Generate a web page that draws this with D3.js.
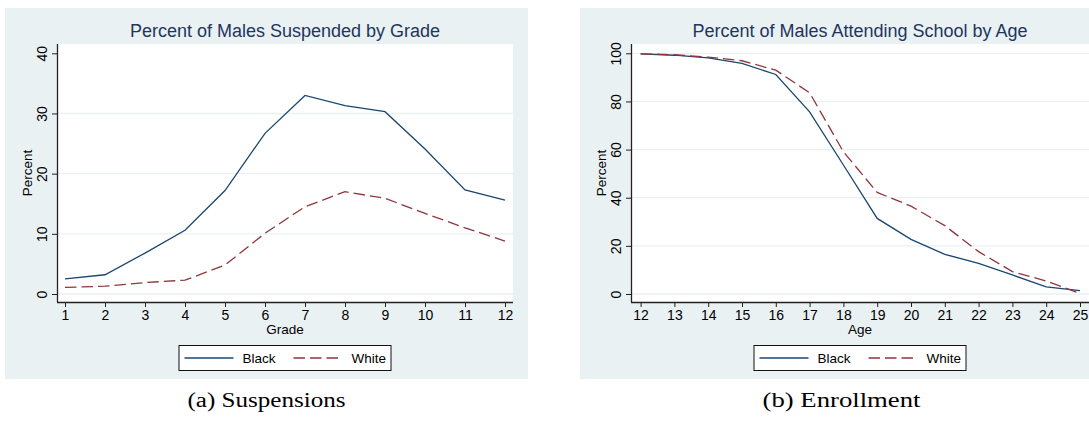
<!DOCTYPE html>
<html>
<head>
<meta charset="utf-8">
<script src="https://cdn.jsdelivr.net/npm/d3@7"></script>
<style>
  html, body { margin: 0; padding: 0; background: #ffffff; }
  svg { display: block; }
  .tick text { font-family: "Liberation Sans", Arial, sans-serif; font-size: 14px; fill: #000; }
</style>
</head>
<body>
<svg id="fig" width="1089" height="423"></svg>
<script>
// Suspensions by grade (percent of males)
const grades = [1, 2, 3, 4, 5, 6, 7, 8, 9, 10, 11, 12];
const suspBlack = [2.5, 3.2, 6.8, 10.6, 17.2, 26.7, 33.0, 31.3, 30.3, 24.1, 17.3, 15.6];
const suspWhite = [1.1, 1.3, 1.9, 2.3, 4.8, 10.1, 14.5, 17.0, 15.9, 13.4, 11.0, 8.8];
const suspYTicks = [0, 10, 20, 30, 40];

// School attendance by age (percent of males)
const ages = [12, 13, 14, 15, 16, 17, 18, 19, 20, 21, 22, 23, 24, 25];
const enrollBlack = [99.8, 99.2, 98.1, 95.8, 91.2, 75.7, 53.6, 31.4, 22.7, 16.5, 12.7, 7.9, 3.0, 1.4];
const enrollWhite = [99.8, 99.4, 98.4, 96.9, 93.0, 83.6, 59.1, 42.2, 36.5, 28.4, 17.6, 9.3, 5.4, 0.2];
const enrollYTicks = [0, 20, 40, 60, 80, 100];

const seriesNames = ["Black", "White"];

const svg = d3.select("#fig");
const SANS = "'Liberation Sans', Arial, Helvetica, sans-serif";
const SERIF = "'Liberation Serif', 'Times New Roman', serif";
const BG = "#eaf1f3";
const GRID = "#eaf1f3";
const NAVY = "#1a476f";
const MAROON = "#90353b";
const TITLE = "#1e3560";

function drawPanel(p) {
  const g = svg.append("g");
  const plotTop = 44, plotBottom = 302;

  // outer graph region
  g.append("rect")
    .attr("x", p.left).attr("y", 8)
    .attr("width", p.width).attr("height", 371)
    .attr("fill", BG);

  // plot region
  g.append("rect")
    .attr("x", p.axisX).attr("y", plotTop)
    .attr("width", p.plotRight - p.axisX).attr("height", plotBottom - plotTop)
    .attr("fill", "#ffffff");

  const x = d3.scaleLinear().domain(p.xDomain).range(p.xRange);
  const y = d3.scaleLinear().domain(p.yDomain).range([294, 53.3]);

  // horizontal grid lines
  g.append("g").selectAll("line")
    .data(p.yTicks.filter(t => t !== p.skipGrid))
    .join("line")
    .attr("x1", p.axisX + 1).attr("x2", p.plotRight)
    .attr("y1", d => y(d)).attr("y2", d => y(d))
    .attr("stroke", GRID).attr("stroke-width", 1.3);

  // series lines
  const line = d3.line().x(d => x(d[0])).y(d => y(d[1]));
  g.append("path")
    .datum(p.xs.map((v, i) => [v, p.black[i]]))
    .attr("d", line).attr("fill", "none")
    .attr("stroke", NAVY).attr("stroke-width", 1.3);
  g.append("path")
    .datum(p.xs.map((v, i) => [v, p.white[i]]))
    .attr("d", line).attr("fill", "none")
    .attr("stroke", MAROON).attr("stroke-width", 1.3)
    .attr("stroke-dasharray", "11.5,5");

  // y axis
  const yAxis = g.append("g")
    .attr("transform", `translate(${p.axisX},0)`)
    .call(d3.axisLeft(y).tickValues(p.yTicks).tickSize(5).tickPadding(0).tickSizeOuter(0));
  yAxis.select(".domain").attr("d", `M0.5,${plotTop}V${plotBottom}`).attr("stroke", "#222").attr("stroke-width", 1.3);
  yAxis.selectAll(".tick line").attr("stroke", "#222").attr("stroke-width", 1);
  yAxis.selectAll(".tick text")
    .attr("x", null).attr("dy", null)
    .attr("text-anchor", "middle")
    .attr("transform", "translate(-10,0) rotate(-90)");

  // x axis
  const xAxis = g.append("g")
    .attr("transform", `translate(0,${plotBottom})`)
    .call(d3.axisBottom(x).tickValues(p.xs).tickFormat(d3.format("d")).tickSize(5).tickPadding(4).tickSizeOuter(0));
  xAxis.select(".domain").attr("d", `M${p.axisX},0.5H${p.plotRight}`).attr("stroke", "#222").attr("stroke-width", 1.3);
  xAxis.selectAll(".tick line").attr("stroke", "#222").attr("stroke-width", 1);
  xAxis.selectAll(".tick text").attr("dy", "0.71em").attr("y", 8);

  const cx = (p.axisX + p.plotRight) / 2;

  // title
  g.append("text")
    .attr("x", cx).attr("y", 37)
    .attr("text-anchor", "middle")
    .attr("font-family", SANS).attr("font-size", 18)
    .attr("fill", TITLE)
    .text(p.title);

  // axis titles
  g.append("text")
    .attr("transform", `translate(${p.yTitleX},173) rotate(-90)`)
    .attr("text-anchor", "middle")
    .attr("font-family", SANS).attr("font-size", 13.5)
    .text("Percent");
  g.append("text")
    .attr("x", cx).attr("y", 333.5)
    .attr("text-anchor", "middle")
    .attr("font-family", SANS).attr("font-size", 13.5)
    .text(p.xTitle);

  // legend
  const lg = g.append("g").attr("transform", `translate(${cx - 106.5},345)`);
  lg.append("rect")
    .attr("x", 0.5).attr("y", 0.5).attr("width", 212).attr("height", 25)
    .attr("fill", "#ffffff").attr("stroke", "#111").attr("stroke-width", 1);
  const styles = [{ c: NAVY, dash: null }, { c: MAROON, dash: "11.5,5" }];
  seriesNames.forEach((name, i) => {
    const ox = 6 + i * 109;
    lg.append("line")
      .attr("x1", ox).attr("x2", ox + 49)
      .attr("y1", 13).attr("y2", 13)
      .attr("stroke", styles[i].c).attr("stroke-width", 1.3)
      .attr("stroke-dasharray", styles[i].dash);
    lg.append("text")
      .attr("x", ox + 58).attr("y", 17.8)
      .attr("font-family", SANS).attr("font-size", 13.5)
      .text(name);
  });

  // subfigure caption
  svg.append("text")
    .attr("x", p.left + p.width / 2).attr("y", 407)
    .attr("text-anchor", "middle")
    .attr("font-family", SERIF).attr("font-size", 20)
    .attr("textLength", 158).attr("lengthAdjust", "spacingAndGlyphs")
    .text(p.caption);
}

drawPanel({
  left: 5, width: 523,
  axisX: 57, plotRight: 513,
  xs: grades, xDomain: [1, 12], xRange: [65, 505],
  yDomain: [0, 40], yTicks: suspYTicks, skipGrid: 40,
  black: suspBlack, white: suspWhite,
  title: "Percent of Males Suspended by Grade",
  xTitle: "Grade", yTitleX: 31.5,
  caption: "(a) Suspensions"
});

drawPanel({
  left: 580, width: 523,
  axisX: 631, plotRight: 1089,
  xs: ages, xDomain: [12, 25], xRange: [640.6, 1080],
  yDomain: [0, 100], yTicks: enrollYTicks, skipGrid: null,
  black: enrollBlack, white: enrollWhite,
  title: "Percent of Males Attending School by Age",
  xTitle: "Age", yTitleX: 606,
  caption: "(b) Enrollment"
});
</script>
</body>
</html>
